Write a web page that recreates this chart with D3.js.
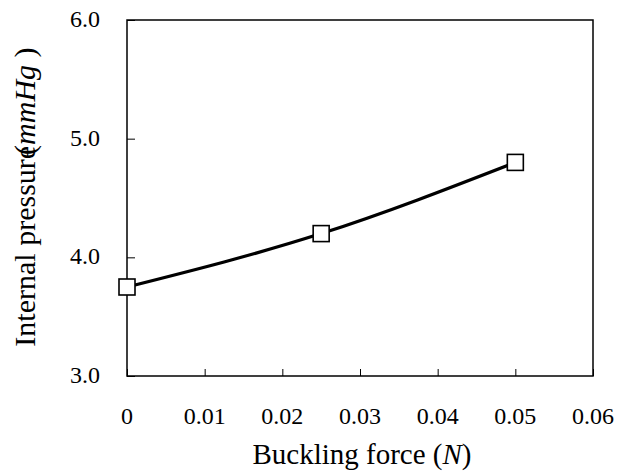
<!DOCTYPE html>
<html><head><meta charset="utf-8">
<script src="https://cdn.jsdelivr.net/npm/d3@7"></script>
<style>body{margin:0;background:#fff}svg{display:block}</style>
</head><body><svg id="c" width="618" height="475"></svg>
<script>
const forceN = [0, 0.025, 0.05];
const pressure = [3.75, 4.2, 4.8];
const xTicks = [0, 0.01, 0.02, 0.03, 0.04, 0.05, 0.06];
const xTickLabels = ["0", "0.01", "0.02", "0.03", "0.04", "0.05", "0.06"];
const yTicks = [3.0, 4.0, 5.0, 6.0];
const yTickLabels = ["3.0", "4.0", "5.0", "6.0"];

const FONT = '"Liberation Serif","Times New Roman",serif';
const svg = d3.select("#c");
const L = 127, R = 593, T = 20, B = 376;
const x = d3.scaleLinear().domain([0, 0.06]).range([L, R]);
const y = d3.scaleLinear().domain([3, 6]).range([B, T]);

// frame
svg.append("rect").attr("x", L).attr("y", T).attr("width", R - L).attr("height", B - T)
  .attr("fill", "none").attr("stroke", "#000").attr("stroke-width", 1.5);

// x axis ticks
const gx = svg.append("g").attr("transform", `translate(0,${B})`)
  .call(d3.axisBottom(x).tickValues(xTicks).tickSize(-7).tickFormat(""));
gx.select(".domain").remove();
gx.selectAll("text").remove();
gx.selectAll("line").attr("stroke", "#000").attr("stroke-width", 1);

// y axis ticks
const gy = svg.append("g").attr("transform", `translate(${L},0)`)
  .call(d3.axisLeft(y).tickValues(yTicks).tickSize(-8).tickFormat(""));
gy.select(".domain").remove();
gy.selectAll("text").remove();
gy.selectAll("line").attr("stroke", "#000").attr("stroke-width", 1);

// tick labels
svg.append("g").selectAll("text").data(xTicks).join("text")
  .attr("x", d => x(d)).attr("y", 424)
  .attr("text-anchor", "middle")
  .style("font-family", FONT).style("font-size", "24px").style("fill", "#000")
  .text((d, i) => xTickLabels[i]);
svg.append("g").selectAll("text").data(yTicks).join("text")
  .attr("x", 100).attr("y", d => y(d) + 7)
  .attr("text-anchor", "end")
  .style("font-family", FONT).style("font-size", "24px").style("fill", "#000")
  .text((d, i) => yTickLabels[i]);

// line
const line = d3.line().x(d => x(d[0])).y(d => y(d[1])).curve(d3.curveMonotoneX);
const pts = forceN.map((f, i) => [f, pressure[i]]);
svg.append("path").attr("d", line(pts)).attr("fill", "none").attr("stroke", "#000").attr("stroke-width", 3.2);

// markers
svg.selectAll("rect.m").data(pts).join("rect").attr("class", "m")
  .attr("x", d => x(d[0]) - 8).attr("y", d => y(d[1]) - 8)
  .attr("width", 16).attr("height", 16)
  .attr("fill", "#fff").attr("stroke", "#000").attr("stroke-width", 1.6);

// titles
const xt = svg.append("text").attr("x", 362).attr("y", 464).attr("text-anchor", "middle")
  .style("font-family", FONT).style("font-size", "29px").style("fill", "#000");
xt.append("tspan").text("Buckling force (");
xt.append("tspan").style("font-style", "italic").text("N");
xt.append("tspan").text(")");

const yt = svg.append("text").attr("transform", "translate(35,197) rotate(-90)").attr("text-anchor", "middle")
  .style("font-family", FONT).style("font-size", "30px").style("fill", "#000");
yt.append("tspan").text("Internal pressure");
yt.append("tspan").attr("dx", -9).text("(");
yt.append("tspan").style("font-style", "italic").text("mmHg");
yt.append("tspan").text(" )");
</script></body></html>
